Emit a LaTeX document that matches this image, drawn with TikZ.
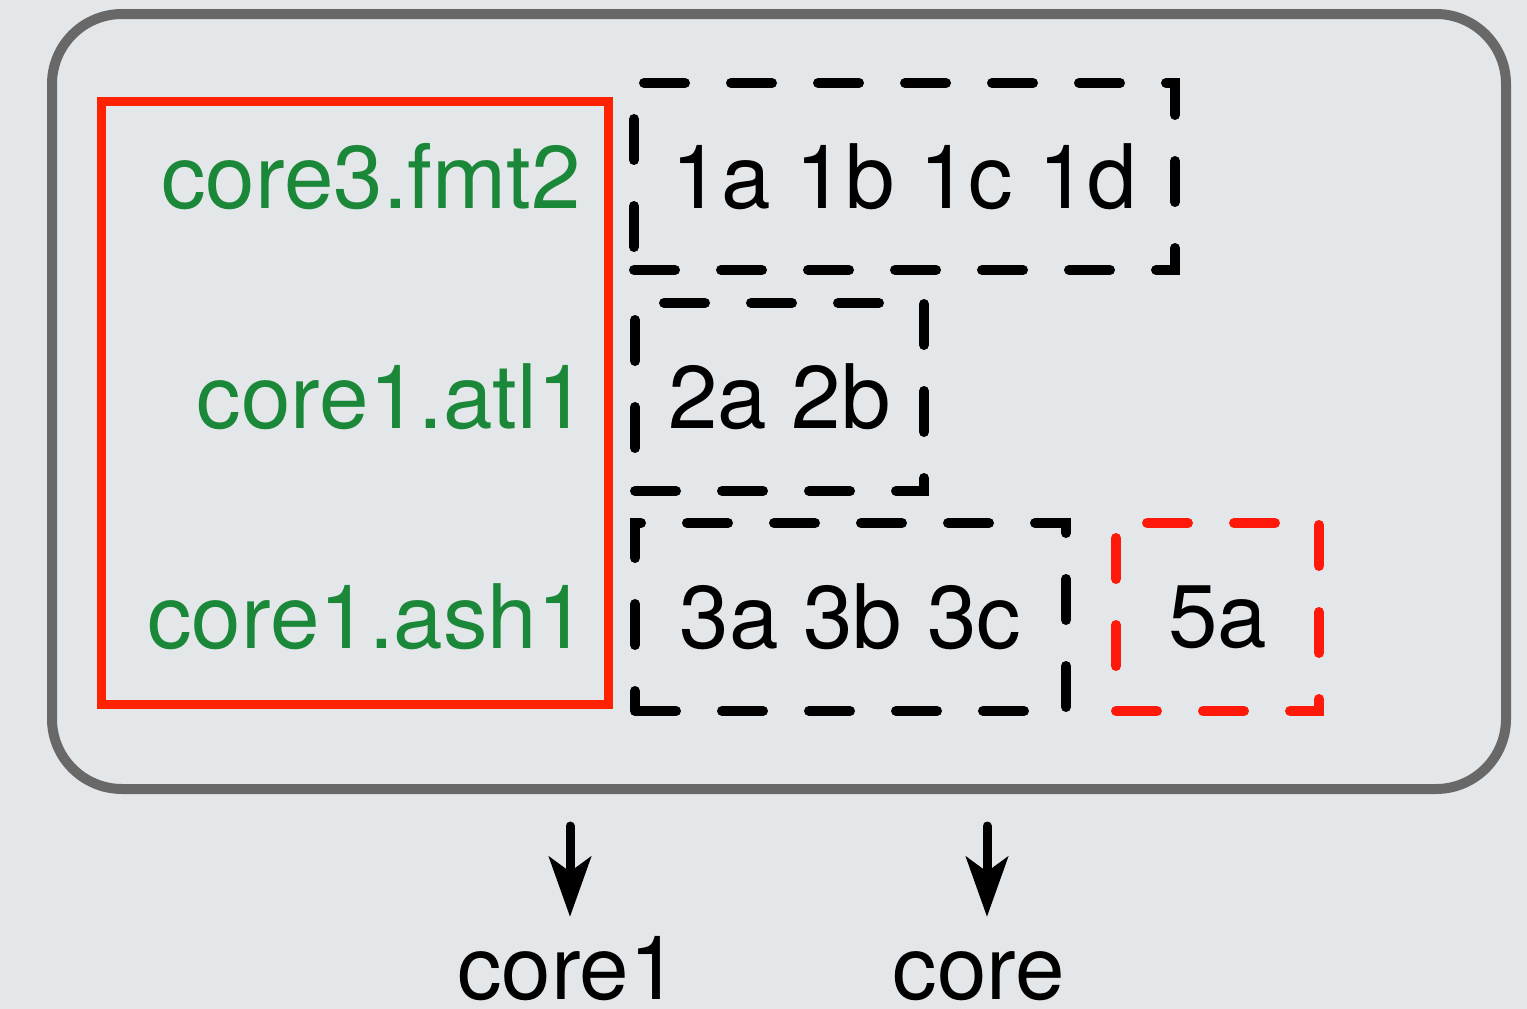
\documentclass[tikz,border=0pt]{standalone}
\usepackage{fontspec}
\setmainfont{TeX Gyre Heros}
\usetikzlibrary{arrows.meta}
\definecolor{bgc}{RGB}{228,231,234}
\definecolor{framegray}{RGB}{104,104,104}
\definecolor{boxred}{RGB}{255,34,0}
\definecolor{dashred}{RGB}{255,25,10}
\definecolor{labgreen}{RGB}{27,135,56}
\tikzset{
  bigtext/.style={font=\fontsize{89}{100}\selectfont, inner sep=0pt},
  dbox/.style={draw=black, line width=10pt, line cap=round, dash pattern=on 41pt off 46pt, rectangle, inner sep=0pt, font=\fontsize{89}{100}\selectfont},
  rdbox/.style={dbox, draw=dashred},
  glabel/.style={bigtext, text=labgreen, anchor=base east},
  outlabel/.style={bigtext, anchor=base, text height=63pt},
  arr/.style={line width=9pt, line cap=round, -{Stealth[length=60pt, width=42pt, inset=15pt]}}
}
\begin{document}
\begin{tikzpicture}[x=1pt, y=-1pt]
\fill[bgc] (0,0) rectangle (1527,1009);
\useasboundingbox (0,0) rectangle (1527,1009);
% outer frame
\node[draw=framegray, line width=10pt, rounded corners=70pt, rectangle, minimum width=1454pt, minimum height=775pt, inner sep=0pt] (outer) at (779,401.5) {};
% red group box
\node[draw=boxred, line width=9pt, rectangle, minimum width=507pt, minimum height=603pt, inner sep=0pt] (grp) at (354.5,402.5) {};
\node[glabel] (g1) at (581,208) {core3.fmt2};
\node[glabel] (g2) at (587,428) {core1.atl1};
\node[glabel] (g3) at (587,648) {core1.ash1};
% dashed boxes
\node[dbox, minimum width=541pt, minimum height=187pt] (b1) at (904.5,176.5) {1a 1b 1c 1d};
\node[dbox, minimum width=289pt, minimum height=188pt] (b2) at (779.5,397) {2a 2b};
\node[dbox, minimum width=431pt, minimum height=188pt] (b3) at (850.5,617) {3a 3b 3c};
\node[rdbox, minimum width=203pt, minimum height=188pt] (b5) at (1217.5,617) {5a};
% bottom labels and arrows
\node[outlabel] (l1) at (568,999) {core1};
\node[outlabel] (l2) at (979,999) {core};
\coordinate (s1) at (570,826);
\coordinate (s2) at (987,826);
\draw[arr, shorten >=19pt] (s1) -- (s1 |- l1.north);
\draw[arr, shorten >=19pt] (s2) -- (s2 |- l2.north);
\end{tikzpicture}
\end{document}
